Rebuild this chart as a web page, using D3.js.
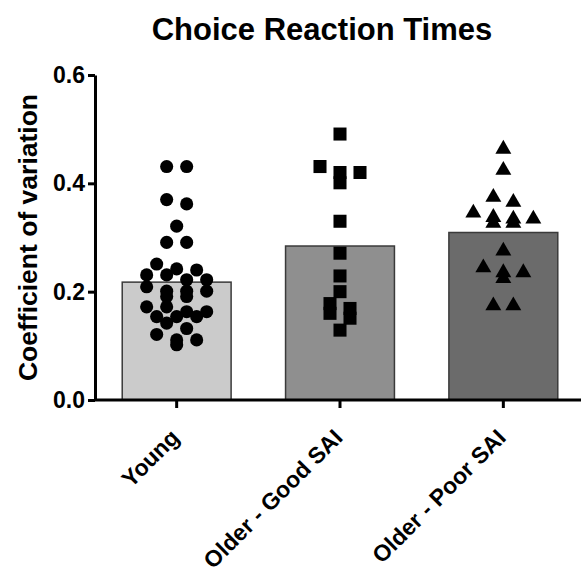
<!DOCTYPE html>
<html>
<head>
<meta charset="utf-8">
<script src="https://cdn.jsdelivr.net/npm/d3@7"></script>
<style>
  body { margin: 0; background: #fff; }
  svg text { font-family: "Liberation Sans", Arial, sans-serif; font-weight: bold; fill: #000; }
</style>
</head>
<body>
<svg id="chart"></svg>
<script>
// values
var groups = ['Young', 'Older - Good SAI', 'Older - Poor SAI'];

var young = [0.431, 0.431, 0.370, 0.362, 0.321, 0.291, 0.291,
    0.251, 0.242, 0.240, 0.231, 0.231, 0.222, 0.222,
    0.209, 0.201, 0.201, 0.201, 0.191, 0.191,
    0.172, 0.172, 0.163, 0.163, 0.154, 0.154, 0.154, 0.142,
    0.132, 0.121, 0.111, 0.111, 0.102];
var goodSAI = [0.491, 0.431, 0.420, 0.420, 0.401, 0.330, 0.271, 0.229,
    0.200, 0.178, 0.169, 0.160, 0.151, 0.129];
var poorSAI = [0.467, 0.428, 0.378, 0.369, 0.349, 0.341, 0.338, 0.338,
    0.330, 0.330, 0.279, 0.248, 0.239, 0.239, 0.228, 0.178, 0.178];

var yTicks = [0.0, 0.2, 0.4, 0.6];

(function () {
    var width = 581, height = 569;
    var left = 95, right = 585, top = 75, bottom = 400;

    var series = [young, goodSAI, poorSAI];
    var fills = ['#cbcbcb', '#8f8f8f', '#6b6b6b'];
    var shapes = [d3.symbolCircle, d3.symbolSquare, d3.symbolTriangle];
    var sizes = [135, 170, 110];

    var svg = d3.select('#chart')
        .attr('width', width)
        .attr('height', height);

    var x = d3.scaleBand()
        .domain(groups)
        .range([left, right])
        .paddingInner(1 / 3)
        .paddingOuter(1 / 6);

    var y = d3.scaleLinear()
        .domain([0, 0.6])
        .range([bottom, top]);

    // bars = group means
    svg.selectAll('.bar')
        .data(groups)
        .enter().append('rect')
            .attr('class', 'bar')
            .attr('x', function (d) { return x(d); })
            .attr('width', x.bandwidth())
            .attr('y', function (d, i) { return y(d3.mean(series[i])); })
            .attr('height', function (d, i) { return bottom - y(d3.mean(series[i])); })
            .attr('fill', function (d, i) { return fills[i]; })
            .attr('stroke', '#3a3a3a')
            .attr('stroke-width', 1.5);

    // spread points that sit at nearly the same value into centered rows
    function spread(values) {
        var sorted = values.slice().sort(d3.descending), rows = [], row = null;
        sorted.forEach(function (v) {
            if (row && row[0] - v < 0.012) row.push(v);
            else { row = [v]; rows.push(row); }
        });
        var out = [];
        rows.forEach(function (r) {
            r.forEach(function (v, i) { out.push({ v: v, dx: (i - (r.length - 1) / 2) * 20 }); });
        });
        return out;
    }

    groups.forEach(function (g, i) {
        var cx = x(g) + x.bandwidth() / 2;
        var sym = d3.symbol().type(shapes[i]).size(sizes[i]);
        svg.append('g').selectAll('path')
            .data(spread(series[i]))
            .enter().append('path')
                .attr('d', sym)
                .attr('transform', function (d) {
                    var dy = shapes[i] === d3.symbolTriangle ? 2 : 0;
                    return 'translate(' + (cx + d.dx) + ',' + (y(d.v) + dy) + ')';
                })
                .attr('fill', '#000');
    });

    // axes
    var yAxis = svg.append('g')
        .attr('transform', 'translate(' + left + ',0)')
        .call(d3.axisLeft(y).tickValues(yTicks).tickFormat(d3.format('.1f')).tickSizeInner(7).tickSizeOuter(0).tickPadding(3));

    var xAxis = svg.append('g')
        .attr('transform', 'translate(0,' + bottom + ')')
        .call(d3.axisBottom(x).tickSizeInner(8).tickSizeOuter(0).tickFormat(''));

    [yAxis, xAxis].forEach(function (a) {
        a.select('.domain').attr('stroke', '#000').attr('stroke-width', 3);
        a.selectAll('.tick line').attr('stroke', '#000').attr('stroke-width', 3);
    });
    xAxis.select('.domain').attr('d', 'M' + left + ',0H' + width);

    yAxis.selectAll('.tick text')
        .attr('font-size', 23)
        .style('font-family', '"Liberation Sans", Arial, sans-serif')
        .style('font-weight', 'bold');

    // rotated category labels (clipped at the bottom edge, as in the source figure)
    svg.selectAll('.xlabel')
        .data(groups)
        .enter().append('text')
            .attr('class', 'xlabel')
            .attr('font-size', 23)
            .attr('text-anchor', 'end')
            .attr('transform', function (d) {
                return 'translate(' + (x(d) + x.bandwidth() / 2 + 4) + ',' + (bottom + 39) + ') rotate(-45)';
            })
            .text(function (d) { return d; });

    svg.append('text')
        .attr('x', 322)
        .attr('y', 40)
        .attr('text-anchor', 'middle')
        .attr('font-size', 31)
        .text('Choice Reaction Times');

    svg.append('text')
        .attr('transform', 'translate(37,' + ((top + bottom) / 2) + ') rotate(-90)')
        .attr('text-anchor', 'middle')
        .attr('font-size', 26.5)
        .text('Coefficient of variation');
}());
</script>
</body>
</html>
